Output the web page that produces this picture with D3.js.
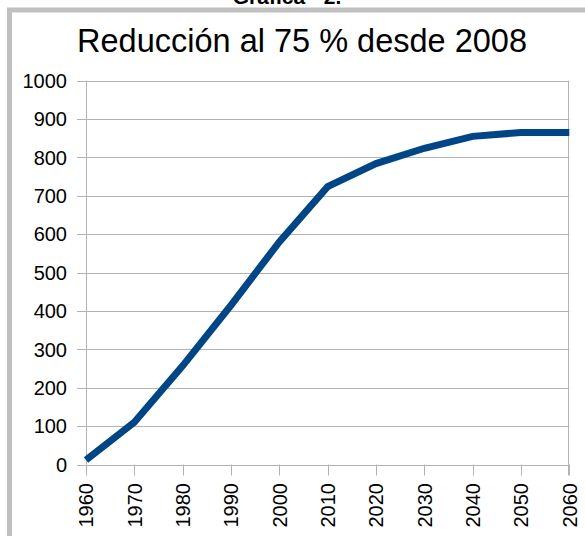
<!DOCTYPE html>
<html><head><meta charset="utf-8">
<script src="https://cdn.jsdelivr.net/npm/d3@7"></script>
<style>html,body{margin:0;padding:0;background:#fff;overflow:hidden}</style>
</head><body>
<svg id="c" width="585" height="536"></svg>
<script>
const years = [1960,1970,1980,1990,2000,2010,2020,2030,2040,2050,2060];
const values = [12,110,257,415,580,724,784,824,855,865,865];
const yTicks = [0,100,200,300,400,500,600,700,800,900,1000];
const titleText = "Reducción al 75 % desde 2008";
const captionText = "Gráfica - 2.";

const svg = d3.select("#c");
const font = "'Liberation Sans', Arial, sans-serif";
const L = 86, R = 569.3, T = 80.7, B = 464.5;

// outer frame
svg.append("rect").attr("x",9.5).attr("y",10).attr("width",600).attr("height",600)
  .attr("fill","none").attr("stroke","#c0c0c0").attr("stroke-width",5);

svg.append("text").attr("x",287).attr("y",4).attr("text-anchor","middle")
  .attr("font-family",font).attr("font-weight","bold").attr("font-size",21).text(captionText);

svg.append("text").attr("x",302).attr("y",52).attr("text-anchor","middle")
  .attr("font-family",font).attr("font-size",32.5).attr("fill","#000").text(titleText);

const x = d3.scalePoint().domain(years).range([L,R]);
const y = d3.scaleLinear().domain([0,1000]).range([B,T]);

// gridlines
svg.append("g").selectAll("line").data(yTicks).join("line")
  .attr("x1",L-9).attr("x2",R).attr("y1",d=>Math.round(y(d))+0.5).attr("y2",d=>Math.round(y(d))+0.5)
  .attr("stroke","#b3b3b3").attr("stroke-width",1);

// vertical axis lines
svg.append("line").attr("x1",L+0.5).attr("x2",L+0.5).attr("y1",T).attr("y2",B)
  .attr("stroke","#b3b3b3");
svg.append("line").attr("x1",Math.round(R)-0.5).attr("x2",Math.round(R)-0.5).attr("y1",T).attr("y2",B+11)
  .attr("stroke","#b3b3b3");

// x ticks
svg.append("g").selectAll("line").data(years).join("line")
  .attr("x1",d=>Math.round(x(d))+0.5).attr("x2",d=>Math.round(x(d))+0.5)
  .attr("y1",B).attr("y2",B+11).attr("stroke","#b3b3b3");

// y labels
svg.append("g").selectAll("text").data(yTicks).join("text")
  .attr("x",67).attr("y",d=>y(d)).attr("dy","0.36em").attr("text-anchor","end")
  .attr("font-family",font).attr("font-size",20).attr("fill","#000").text(d=>d);

// x labels
svg.append("g").selectAll("text").data(years).join("text")
  .attr("transform",d=>`translate(${x(d)},483) rotate(-90)`)
  .attr("dy","0.36em").attr("text-anchor","end")
  .attr("font-family",font).attr("font-size",20).attr("fill","#000").text(d=>d);

// line
const line = d3.line().x((d,i)=>x(years[i])).y(d=>y(d));
svg.append("path").datum(values).attr("d",line)
  .attr("fill","none").attr("stroke","#004586").attr("stroke-width",7)
  .attr("stroke-linejoin","miter");
</script>
</body></html>
